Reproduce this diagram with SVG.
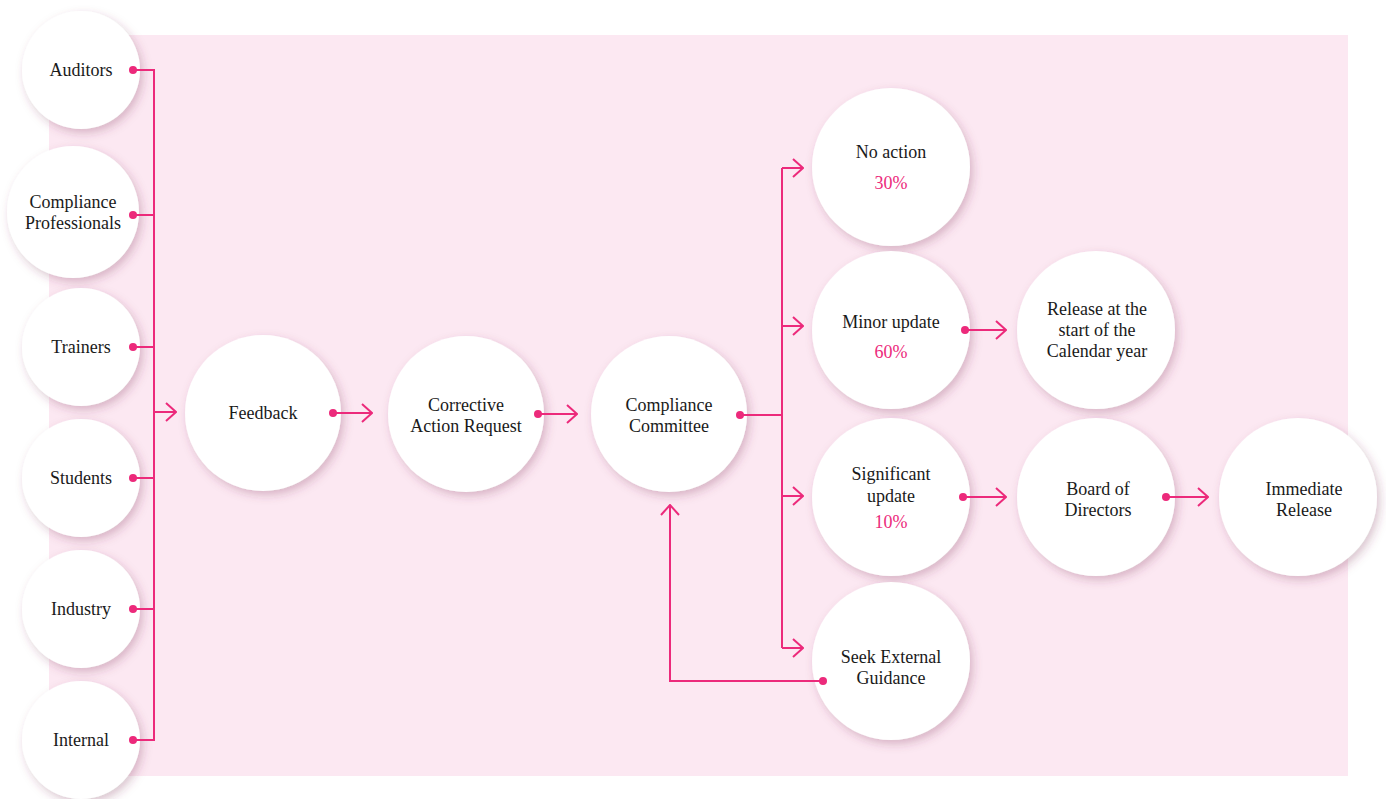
<svg xmlns="http://www.w3.org/2000/svg" width="1386" height="799" viewBox="0 0 1386 799">
<defs>
<filter id="sh" x="-30%" y="-30%" width="160%" height="160%">
<feDropShadow dx="3" dy="4" stdDeviation="5" flood-color="#7a3050" flood-opacity="0.28"/>
</filter>
<marker id="ah" viewBox="0 0 12 20" markerWidth="12" markerHeight="20" refX="11" refY="10" orient="auto" markerUnits="userSpaceOnUse">
<path d="M1,1 L11,10 L1,19" fill="none" stroke="#ec2a7b" stroke-width="2"/>
</marker>
<marker id="dot" viewBox="0 0 10 10" markerWidth="8" markerHeight="8" refX="5" refY="5" markerUnits="userSpaceOnUse">
<circle cx="5" cy="5" r="5" fill="#ec2a7b"/>
</marker>
</defs>
<style>
.n{fill:#fff;filter:url(#sh)}
.t{font-family:"Liberation Serif","DejaVu Serif",serif;font-size:18px;fill:#1a1a1a;text-anchor:middle}
.p{fill:#ec2a7b}
.c{fill:none;stroke:#ec2a7b;stroke-width:2}
</style>
<rect x="49" y="35" width="1299" height="741" fill="#fce8f2"/>
<g id="auditors"><circle class="n" cx="81" cy="70" r="59"/><text class="t" x="81" y="76">Auditors</text></g>
<g id="compliance-professionals"><circle class="n" cx="73" cy="212" r="66"/><text class="t" x="73" y="208">Compliance</text><text class="t" x="73" y="229">Professionals</text></g>
<g id="trainers"><circle class="n" cx="81" cy="347" r="59"/><text class="t" x="81" y="353">Trainers</text></g>
<g id="students"><circle class="n" cx="81" cy="478" r="59"/><text class="t" x="81" y="484">Students</text></g>
<g id="industry"><circle class="n" cx="81" cy="609" r="59"/><text class="t" x="81" y="615">Industry</text></g>
<g id="internal"><circle class="n" cx="81" cy="740" r="59"/><text class="t" x="81" y="746">Internal</text></g>
<g id="feedback"><circle class="n" cx="263" cy="413" r="78"/><text class="t" x="263" y="419">Feedback</text></g>
<g id="corrective-action-request"><circle class="n" cx="466" cy="414" r="78"/><text class="t" x="466" y="411">Corrective</text><text class="t" x="466" y="432">Action Request</text></g>
<g id="compliance-committee"><circle class="n" cx="669" cy="414" r="78"/><text class="t" x="669" y="411">Compliance</text><text class="t" x="669" y="432">Committee</text></g>
<g id="no-action"><circle class="n" cx="891" cy="167" r="79"/><text class="t" x="891" y="158">No action</text><text class="t p" x="891" y="189">30%</text></g>
<g id="minor-update"><circle class="n" cx="891" cy="330" r="79"/><text class="t" x="891" y="328">Minor update</text><text class="t p" x="891" y="358">60%</text></g>
<g id="significant-update"><circle class="n" cx="891" cy="497" r="79"/><text class="t" x="891" y="480">Significant</text><text class="t" x="891" y="502">update</text><text class="t p" x="891" y="528">10%</text></g>
<g id="seek-external-guidance"><circle class="n" cx="891" cy="661" r="79"/><text class="t" x="891" y="663">Seek External</text><text class="t" x="891" y="684">Guidance</text></g>
<g id="release-calendar"><circle class="n" cx="1096" cy="330" r="79"/><text class="t" x="1097" y="315">Release at the</text><text class="t" x="1097" y="336">start of the</text><text class="t" x="1097" y="357">Calendar year</text></g>
<g id="board-of-directors"><circle class="n" cx="1096" cy="497" r="79"/><text class="t" x="1098" y="495">Board of</text><text class="t" x="1098" y="516">Directors</text></g>
<g id="immediate-release"><circle class="n" cx="1298" cy="497" r="79"/><text class="t" x="1304" y="495">Immediate</text><text class="t" x="1304" y="516">Release</text></g>
<g id="connectors">
<path class="c" d="M133,70 H154 V740 H133" marker-start="url(#dot)" marker-end="url(#dot)"/>
<path class="c" d="M133,215 H154" marker-start="url(#dot)"/>
<path class="c" d="M133,347 H154" marker-start="url(#dot)"/>
<path class="c" d="M133,478 H154" marker-start="url(#dot)"/>
<path class="c" d="M133,609 H154" marker-start="url(#dot)"/>
<path class="c" d="M154,412 H176" marker-end="url(#ah)"/>
<path class="c" d="M333,413 H372" marker-start="url(#dot)" marker-end="url(#ah)"/>
<path class="c" d="M538,414 H577" marker-start="url(#dot)" marker-end="url(#ah)"/>
<path class="c" d="M740,415 H782" marker-start="url(#dot)"/>
<path class="c" d="M782,168 V648"/>
<path class="c" d="M782,168 H803" marker-end="url(#ah)"/>
<path class="c" d="M782,326 H803" marker-end="url(#ah)"/>
<path class="c" d="M782,496 H803" marker-end="url(#ah)"/>
<path class="c" d="M782,648 H803" marker-end="url(#ah)"/>
<path class="c" d="M965,330 H1006" marker-start="url(#dot)" marker-end="url(#ah)"/>
<path class="c" d="M963,497 H1006" marker-start="url(#dot)" marker-end="url(#ah)"/>
<path class="c" d="M1166,497 H1208" marker-start="url(#dot)" marker-end="url(#ah)"/>
<path class="c" d="M823,681 H670 V505" marker-start="url(#dot)" marker-end="url(#ah)"/>
</g>
</svg>
